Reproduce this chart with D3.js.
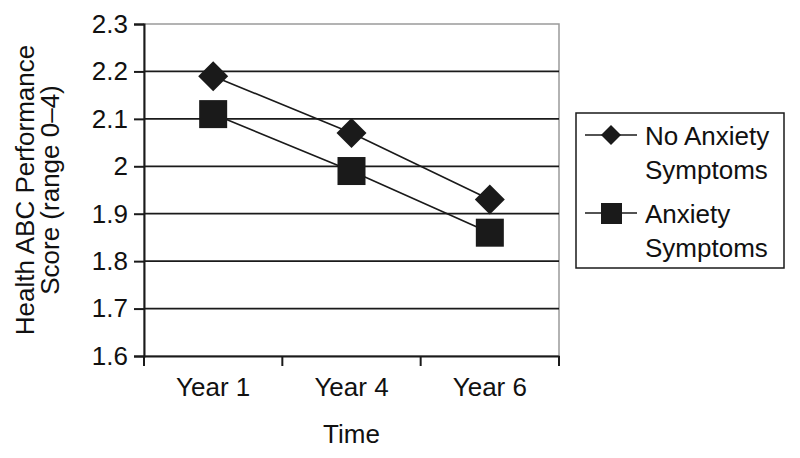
<!DOCTYPE html>
<html lang="en">
<head>
<meta charset="UTF-8">
<title>Health ABC</title>
<script src="https://d3js.org/d3.v7.min.js"></script>
<style>
  body { margin: 0; background: #fff; }
  text { font-family: "Liberation Sans", Arial, sans-serif; fill: #111; }
</style>
</head>
<body>
<svg width="800" height="458"></svg>
<script>
const timepoints = ["Year 1", "Year 4", "Year 6"];
const noAnxiety = [2.19, 2.07, 1.93];
const anxiety = [2.11, 1.99, 1.86];
const yTicks = [1.6, 1.7, 1.8, 1.9, 2.0, 2.1, 2.2, 2.3];
const seriesNames = [["No Anxiety", "Symptoms"], ["Anxiety", "Symptoms"]];

const svg = d3.select("svg");
const pLeft = 144, pRight = 559, pTop = 24, pBottom = 356;
const fs = 26;

const x = d3.scaleBand().domain(timepoints).range([pLeft, pRight]);
const y = d3.scaleLinear().domain([1.6, 2.3]).range([pBottom, pTop]);

// plot border (grey)
svg.append("rect").attr("x", pLeft).attr("y", pTop)
  .attr("width", pRight - pLeft).attr("height", pBottom - pTop)
  .attr("fill", "none").attr("stroke", "#9a9a9a").attr("stroke-width", 1.5);

// gridlines
svg.append("g").selectAll("line")
  .data(yTicks.filter(d => d < 2.3 && d > 1.6))
  .join("line")
  .attr("x1", pLeft).attr("x2", pRight)
  .attr("y1", d => y(d)).attr("y2", d => y(d))
  .attr("stroke", "#1a1a1a").attr("stroke-width", 1.8);

// y axis
const yAxis = svg.append("g").attr("transform", `translate(${pLeft},0)`)
  .call(d3.axisLeft(y).tickValues(yTicks).tickSize(10).tickPadding(6)
    .tickFormat(d => d === 2 ? "2" : d3.format(".1f")(d)));
yAxis.select(".domain").attr("stroke", "#1a1a1a").attr("stroke-width", 2);
yAxis.selectAll(".tick line").attr("stroke", "#1a1a1a").attr("stroke-width", 2);
yAxis.selectAll(".tick text").attr("font-size", fs).attr("fill", "#111")
  .attr("font-family", "Liberation Sans, Arial, sans-serif");

// x axis
const xAxis = svg.append("g").attr("transform", `translate(0,${pBottom})`)
  .call(d3.axisBottom(x).tickSize(0).tickPadding(22));
xAxis.select(".domain").attr("stroke", "#1a1a1a").attr("stroke-width", 2);
xAxis.selectAll(".tick text").attr("font-size", fs).attr("fill", "#111")
  .attr("font-family", "Liberation Sans, Arial, sans-serif");
// tick marks at band boundaries
const bounds = timepoints.map(d => x(d)).concat([x(timepoints[timepoints.length - 1]) + x.bandwidth()]);
svg.append("g").selectAll("line").data(bounds).join("line")
  .attr("x1", d => d).attr("x2", d => d)
  .attr("y1", pBottom).attr("y2", pBottom + 10)
  .attr("stroke", "#1a1a1a").attr("stroke-width", 2);

// axis titles
svg.append("text").attr("x", (pLeft + pRight) / 2).attr("y", 443)
  .attr("text-anchor", "middle").attr("font-size", fs).text("Time");
const yt = svg.append("text").attr("text-anchor", "middle").attr("font-size", fs)
  .attr("transform", `translate(34,${(pTop + pBottom) / 2}) rotate(-90)`);
yt.append("tspan").attr("x", 0).attr("dy", 0).text("Health ABC Performance");
yt.append("tspan").attr("x", 0).attr("dy", 25).text("Score (range 0\u20134)");

const cx = d => x(d) + x.bandwidth() / 2;
const line = d3.line().x((d, i) => cx(timepoints[i])).y(d => y(d));

// series
[noAnxiety, anxiety].forEach(vals => {
  svg.append("path").datum(vals).attr("d", line)
    .attr("fill", "none").attr("stroke", "#1a1a1a").attr("stroke-width", 1.6);
});
const diamond = (s) => `M0,${-s}L${s},0L0,${s}L${-s},0Z`;
svg.append("g").selectAll("path").data(noAnxiety).join("path")
  .attr("transform", (d, i) => `translate(${cx(timepoints[i])},${y(d)})`)
  .attr("d", diamond(15)).attr("fill", "#1a1a1a");
svg.append("g").selectAll("rect").data(anxiety).join("rect")
  .attr("x", (d, i) => cx(timepoints[i]) - 14).attr("y", d => y(d) - 14)
  .attr("width", 28).attr("height", 28).attr("fill", "#1a1a1a");

// legend
const lg = svg.append("g");
lg.append("rect").attr("x", 576).attr("y", 113).attr("width", 208).attr("height", 155)
  .attr("fill", "#fff").attr("stroke", "#1a1a1a").attr("stroke-width", 1.5);
const rowY = [135, 213];
rowY.forEach((ry, i) => {
  lg.append("line").attr("x1", 585).attr("x2", 637).attr("y1", ry).attr("y2", ry)
    .attr("stroke", "#1a1a1a").attr("stroke-width", 1.5);
  if (i === 0) {
    lg.append("path").attr("transform", `translate(611,${ry})`).attr("d", diamond(10)).attr("fill", "#1a1a1a");
  } else {
    lg.append("rect").attr("x", 601).attr("y", ry - 10).attr("width", 21).attr("height", 21).attr("fill", "#1a1a1a");
  }
  seriesNames[i].forEach((t, j) => {
    lg.append("text").attr("x", 645).attr("y", ry + 10 + j * 34).attr("font-size", fs).text(t);
  });
});
</script>
</body>
</html>
